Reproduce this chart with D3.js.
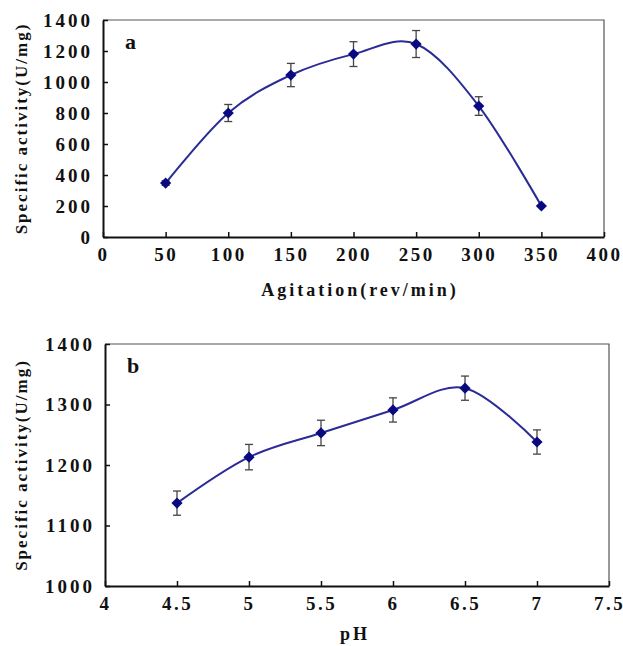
<!DOCTYPE html>
<html>
<head>
<meta charset="utf-8">
<script src="https://cdn.jsdelivr.net/npm/d3@7"></script>
<style>
  body { margin: 0; background: #fff; }
</style>
</head>
<body>
<div id="chart"></div>
<script>
// panel a - agitation
const agitation = [50, 100, 150, 200, 250, 300, 350];
const activityA = [348, 800, 1045, 1180, 1245, 845, 200];
const errA = [15, 55, 75, 80, 87, 60, 0];
const xTicksA = [0, 50, 100, 150, 200, 250, 300, 350, 400];
const yTicksA = [0, 200, 400, 600, 800, 1000, 1200, 1400];

// panel b - pH
const phValues = [4.5, 5, 5.5, 6, 6.5, 7];
const activityB = [1137, 1213, 1253, 1291, 1327, 1238];
const errB = [20, 21, 21, 20, 20, 20];
const xTicksB = [4, 4.5, 5, 5.5, 6, 6.5, 7, 7.5];
const yTicksB = [1000, 1100, 1200, 1300, 1400];

const FONT = "Liberation Serif, Times New Roman, serif";

const svg = d3.select("#chart").append("svg")
  .attr("width", 623)
  .attr("height", 646);

function styleText(sel, size, spacing) {
  sel.attr("font-family", FONT)
    .attr("font-weight", "bold")
    .attr("fill", "#111")
    .style("font-family", FONT)
    .style("font-weight", "bold")
    .style("font-size", size + "px")
    .style("letter-spacing", spacing + "px");
}

function drawPanel(opts) {
  const { left, top, right, bottom, xs, ys, errs, xDomain, yDomain, xTicks, yTicks, letter, xLabel, xLabelX, xLabelY, yLabelX } = opts;
  const g = svg.append("g");

  const x = d3.scaleLinear().domain(xDomain).range([left, right]);
  const y = d3.scaleLinear().domain(yDomain).range([bottom, top]);

  // top and right frame lines
  g.append("path")
    .attr("d", `M${left},${top}H${right}V${bottom}`)
    .attr("fill", "none")
    .attr("stroke", "#555")
    .attr("stroke-width", 1.2);

  // x axis (ticks inside)
  const xAxis = g.append("g")
    .attr("transform", `translate(0,${bottom})`)
    .call(d3.axisBottom(x).tickValues(xTicks).tickSize(-5).tickSizeOuter(0).tickPadding(11)
      .tickFormat(d => String(d)));
  xAxis.select(".domain").attr("stroke", "#111").attr("stroke-width", 2);
  xAxis.selectAll(".tick line").attr("stroke", "#111").attr("stroke-width", 1.5);
  styleText(xAxis.selectAll(".tick text"), 19, 2.5);
  xAxis.selectAll(".tick text").attr("dy", "0.71em");

  // y axis (ticks inside)
  const yAxis = g.append("g")
    .attr("transform", `translate(${left},0)`)
    .call(d3.axisLeft(y).tickValues(yTicks).tickSize(-5).tickSizeOuter(0).tickPadding(10)
      .tickFormat(d => String(d)));
  yAxis.select(".domain").attr("stroke", "#111").attr("stroke-width", 2);
  yAxis.selectAll(".tick line").attr("stroke", "#111").attr("stroke-width", 1.5);
  styleText(yAxis.selectAll(".tick text"), 19, 3);

  const pts = xs.map((d, i) => ({ x: d, y: ys[i], e: errs[i] }));

  // smoothed line
  const line = d3.line()
    .x(d => x(d.x))
    .y(d => y(d.y))
    .curve(d3.curveCardinal.tension(0));
  g.append("path")
    .datum(pts)
    .attr("d", line)
    .attr("fill", "none")
    .attr("stroke", "#2b2b96")
    .attr("stroke-width", 2);

  // error bars
  const eb = g.append("g").attr("stroke", "#444").attr("stroke-width", 1.3);
  pts.filter(d => d.e > 0).forEach(d => {
    const cx = x(d.x), y1 = y(d.y + d.e), y2 = y(d.y - d.e);
    eb.append("line").attr("x1", cx).attr("x2", cx).attr("y1", y1).attr("y2", y2);
    eb.append("line").attr("x1", cx - 4).attr("x2", cx + 4).attr("y1", y1).attr("y2", y1);
    eb.append("line").attr("x1", cx - 4).attr("x2", cx + 4).attr("y1", y2).attr("y2", y2);
  });

  // diamond markers
  g.selectAll(".marker")
    .data(pts)
    .join("path")
    .attr("class", "marker")
    .attr("transform", d => `translate(${x(d.x)},${y(d.y)})`)
    .attr("d", d3.symbol(d3.symbolDiamond2, 80))
    .attr("fill", "#0a0a80");

  // panel letter
  styleText(g.append("text")
    .attr("x", left + 22)
    .attr("y", top + 29)
    .text(letter), 22, 0);

  // x label
  styleText(g.append("text")
    .attr("x", xLabelX)
    .attr("y", xLabelY)
    .attr("text-anchor", "middle")
    .text(xLabel), 18, 3);

  // y label
  styleText(g.append("text")
    .attr("transform", `translate(${yLabelX},${(top + bottom) / 2}) rotate(-90)`)
    .attr("text-anchor", "middle")
    .text("Specific activity(U/mg)"), 17, 2);
}

drawPanel({
  left: 103, top: 20, right: 604, bottom: 237,
  xs: agitation, ys: activityA, errs: errA,
  xDomain: [0, 400], yDomain: [0, 1400],
  xTicks: xTicksA, yTicks: yTicksA,
  letter: "a", xLabel: "Agitation(rev/min)", xLabelX: 360, xLabelY: 296, yLabelX: 27
});

drawPanel({
  left: 105, top: 344, right: 609, bottom: 586,
  xs: phValues, ys: activityB, errs: errB,
  xDomain: [4, 7.5], yDomain: [1000, 1400],
  xTicks: xTicksB, yTicks: yTicksB,
  letter: "b", xLabel: "pH", xLabelX: 355, xLabelY: 640, yLabelX: 27
});
</script>
</body>
</html>
